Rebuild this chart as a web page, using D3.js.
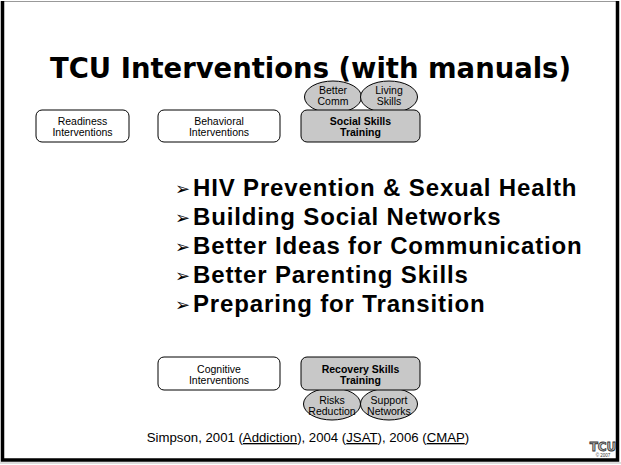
<!DOCTYPE html>
<html>
<head>
<meta charset="utf-8">
<script src="https://cdnjs.cloudflare.com/ajax/libs/d3/7.8.5/d3.min.js"></script>
<style>
  body { margin: 0; background: #fff; }
  svg { display: block; }
  .box-label { font-family: "Liberation Sans", Arial, sans-serif; font-size: 10.5px; }
</style>
</head>
<body>
<svg width="621" height="465"></svg>
<script>
var svg = d3.select("svg"),
    width = +svg.attr("width"),
    height = +svg.attr("height");

// slide content
var title = "TCU Interventions (with manuals)";

var topBoxes = [
    {lines: ["Readiness", "Interventions"], bold: false, x0: 36, x1: 129},
    {lines: ["Behavioral", "Interventions"], bold: false, x0: 158, x1: 280},
    {lines: ["Social Skills", "Training"], bold: true, x0: 301, x1: 420}
];
var topBubbles = [
    {lines: ["Better", "Comm"], cx: 333},
    {lines: ["Living", "Skills"], cx: 389}
];

var bottomBoxes = [
    {lines: ["Cognitive", "Interventions"], bold: false, x0: 158, x1: 280},
    {lines: ["Recovery Skills", "Training"], bold: true, x0: 301, x1: 420}
];
var bottomBubbles = [
    {lines: ["Risks", "Reduction"], cx: 332},
    {lines: ["Support", "Networks"], cx: 389}
];

var bullets = [
    "HIV Prevention & Sexual Health",
    "Building Social Networks",
    "Better Ideas for Communication",
    "Better Parenting Skills",
    "Preparing for Transition"
];

var citation = [
    {t: "Simpson, 2001 (", u: false},
    {t: "Addiction", u: true},
    {t: "), 2004 (", u: false},
    {t: "JSAT", u: true},
    {t: "), 2006 (", u: false},
    {t: "CMAP", u: true},
    {t: ")", u: false}
];

// frame
svg.append("rect")
    .attr("x", 0).attr("y", 0)
    .attr("width", width).attr("height", height)
    .attr("fill", "#fff");
svg.append("line")
    .attr("x1", 2).attr("x2", 618).attr("y1", 1.5).attr("y2", 1.5)
    .attr("stroke", "#999").attr("stroke-width", 1);
svg.append("path")
    .attr("d", "M2.5,1 V460 H617.5 V1")
    .attr("fill", "none")
    .attr("stroke", "#000")
    .attr("stroke-width", 3.5);
svg.append("line")
    .attr("x1", 0).attr("x2", 621).attr("y1", 463).attr("y2", 463)
    .attr("stroke", "#bbb").attr("stroke-width", 1);

// title
svg.append("text")
    .attr("x", width / 2)
    .attr("y", 78)
    .attr("text-anchor", "middle")
    .attr("font-family", "DejaVu Sans, Verdana, sans-serif")
    .attr("font-weight", "bold")
    .attr("font-size", 28)
    .attr("textLength", 521)
    .attr("lengthAdjust", "spacingAndGlyphs")
    .text(title);

// draws bubbles then boxes on top
function drawRow(boxes, bubbles, y0, y1, by, textShift) {
    var g = svg.append("g");

    var bub = g.selectAll("g.bubble")
        .data(bubbles)
        .enter().append("g")
        .attr("class", "bubble");
    bub.append("ellipse")
        .attr("cx", function(d) { return d.cx; })
        .attr("cy", by)
        .attr("rx", 28.5)
        .attr("ry", 16)
        .attr("fill", "#c8c8c8")
        .attr("stroke", "#000")
        .attr("stroke-width", 1);
    bub.each(function(d) {
        var t = d3.select(this).append("text")
            .attr("class", "box-label")
            .attr("text-anchor", "middle")
            .attr("font-size", 9.5);
        d.lines.forEach(function(l, i) {
            t.append("tspan")
                .attr("x", d.cx)
                .attr("y", by + textShift + i * 10.5)
                .text(l);
        });
    });

    var bx = g.selectAll("g.box")
        .data(boxes)
        .enter().append("g")
        .attr("class", "box");
    bx.append("rect")
        .attr("x", function(d) { return d.x0; })
        .attr("y", y0)
        .attr("width", function(d) { return d.x1 - d.x0; })
        .attr("height", y1 - y0)
        .attr("rx", 6)
        .attr("fill", function(d) { return d.bold ? "#c8c8c8" : "#fff"; })
        .attr("stroke", "#000")
        .attr("stroke-width", 1);
    bx.each(function(d) {
        var t = d3.select(this).append("text")
            .attr("class", "box-label")
            .attr("text-anchor", "middle")
            .attr("font-weight", d.bold ? "bold" : "normal")
            .attr("font-size", d.bold ? 11 : 10.5);
        d.lines.forEach(function(l, i) {
            t.append("tspan")
                .attr("x", (d.x0 + d.x1) / 2)
                .attr("y", (y0 + y1) / 2 - 1 + i * 11)
                .text(l);
        });
    });
}

drawRow(topBoxes, topBubbles, 110, 142, 97, -3);
drawRow(bottomBoxes, bottomBubbles, 357, 390, 404, 0);

// bullet list
var yb = d3.scalePoint()
    .domain(bullets)
    .range([196, 312]);

var bl = svg.append("g")
    .selectAll("g")
    .data(bullets)
    .enter().append("g");
bl.append("text")
    .attr("x", 175)
    .attr("y", function(d) { return yb(d) - 1; })
    .attr("font-family", "DejaVu Sans, sans-serif")
    .attr("font-size", 18)
    .text("\u27A2");
bl.append("text")
    .attr("x", 193)
    .attr("y", function(d) { return yb(d); })
    .attr("font-family", "Liberation Sans, Arial, sans-serif")
    .attr("font-weight", "bold")
    .attr("font-size", 24)
    .attr("letter-spacing", 0.85)
    .text(function(d) { return d; });

// citation line
var cite = svg.append("text")
    .attr("x", 308)
    .attr("y", 442)
    .attr("text-anchor", "middle")
    .attr("font-family", "Liberation Sans, Arial, sans-serif")
    .attr("font-size", 13.2);
cite.selectAll("tspan")
    .data(citation)
    .enter().append("tspan")
    .attr("text-decoration", function(d) { return d.u ? "underline" : null; })
    .text(function(d) { return d.t; });

// small TCU logo
var logo = svg.append("g").attr("transform", "translate(603,451)");
logo.append("text")
    .attr("text-anchor", "middle")
    .attr("font-family", "DejaVu Sans, sans-serif")
    .attr("font-weight", "bold")
    .attr("font-size", 12)
    .attr("fill", "#bbb")
    .attr("stroke", "#333")
    .attr("stroke-width", 0.8)
    .text("TCU");
logo.append("text")
    .attr("y", 6)
    .attr("text-anchor", "middle")
    .attr("font-family", "Liberation Sans, Arial, sans-serif")
    .attr("font-size", 4.5)
    .attr("fill", "#333")
    .text("\u00A9 2007");
</script>
</body>
</html>
